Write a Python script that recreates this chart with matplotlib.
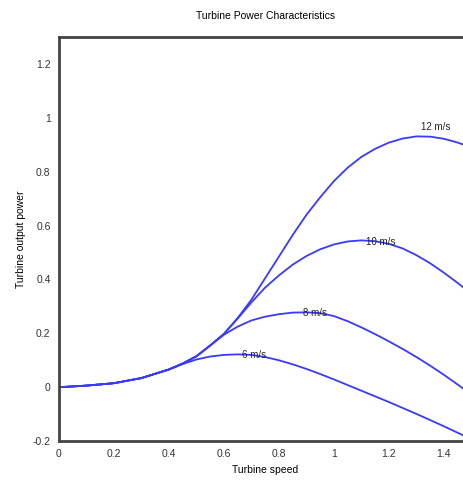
import numpy as np
import matplotlib
matplotlib.use("Agg")
import matplotlib.pyplot as plt

plt.rcParams['font.family'] = ['Liberation Sans', 'DejaVu Sans']

speed = [0, 0.1, 0.2, 0.3, 0.4, 0.45, 0.5, 0.55, 0.6, 0.65, 0.7, 0.75, 0.8,
         0.85, 0.9, 0.95, 1.0, 1.05, 1.1, 1.15, 1.2, 1.25, 1.3, 1.35, 1.4,
         1.45, 1.5]

p6 = [0, 0.006, 0.015, 0.034, 0.066, 0.086, 0.103, 0.114, 0.12, 0.122, 0.12,
      0.112, 0.1, 0.085, 0.068, 0.049, 0.029, 0.008, -0.013, -0.034, -0.055,
      -0.077, -0.099, -0.122, -0.145, -0.169, -0.193]
p8 = [0, 0.006, 0.015, 0.034, 0.066, 0.088, 0.115, 0.155, 0.195, 0.225, 0.248,
      0.262, 0.271, 0.277, 0.278, 0.275, 0.264, 0.245, 0.222, 0.197, 0.17,
      0.142, 0.112, 0.08, 0.046, 0.01, -0.028]
p10 = [0, 0.006, 0.015, 0.034, 0.066, 0.088, 0.115, 0.155, 0.198, 0.255, 0.315,
       0.37, 0.415, 0.455, 0.487, 0.512, 0.53, 0.541, 0.545, 0.542, 0.532,
       0.515, 0.49, 0.46, 0.425, 0.387, 0.347]
p12 = [0, 0.006, 0.015, 0.034, 0.066, 0.088, 0.115, 0.155, 0.198, 0.257, 0.325,
       0.405, 0.485, 0.565, 0.64, 0.705, 0.765, 0.815, 0.855, 0.885, 0.908,
       0.923, 0.931, 0.93, 0.922, 0.908, 0.89]

labels = ['6 m/s', '8 m/s', '10 m/s', '12 m/s']
label_x = [0.71, 0.93, 1.17, 1.37]
label_y = [0.118, 0.275, 0.54, 0.965]

fig = plt.figure(figsize=(4.64, 4.8), dpi=100)
ax = fig.add_axes([0.127, 0.081, 0.889, 0.842])

for p in [p6, p8, p10, p12]:
    ax.plot(speed, p, color='#3a3aff', lw=1.3)

for t, lx, ly in zip(labels, label_x, label_y):
    ax.text(lx, ly, t, fontsize=7, ha='center', va='center', color='#222222')

ax.set_xlim(0, 1.5)
ax.set_ylim(-0.2, 1.3)
ax.set_xticks([0, 0.2, 0.4, 0.6, 0.8, 1, 1.2, 1.4])
ax.set_xticklabels(['0', '0.2', '0.4', '0.6', '0.8', '1', '1.2', '1.4'])
ax.set_yticks([-0.2, 0, 0.2, 0.4, 0.6, 0.8, 1, 1.2])
ax.set_yticklabels(['-0.2', '0', '0.2', '0.4', '0.6', '0.8', '1', '1.2'])
ax.tick_params(length=0, labelsize=7.5, pad=6, colors='#333333')

for s in ax.spines.values():
    s.set_color('#444444')
    s.set_linewidth(2)

ax.set_title('Turbine Power Characteristics', fontsize=7.5, pad=13)
ax.set_xlabel('Turbine speed', fontsize=7.5, labelpad=4)
ax.set_ylabel('Turbine output power', fontsize=7.5, labelpad=5)

fig.savefig('out.png', dpi=100)
